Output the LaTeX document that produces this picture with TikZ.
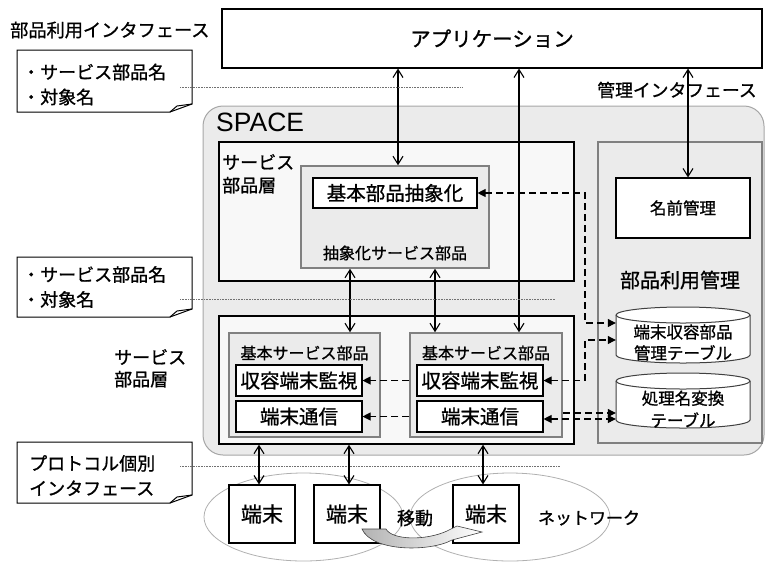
\documentclass[tikz,border=0pt]{standalone}
\usepackage{fontspec}
\setmainfont{Noto Sans CJK JP}[RawFeature={embolden=1}]
\newfontfamily\latinfont{Liberation Sans}
\usetikzlibrary{arrows.meta}
\newcommand{\fsz}[2]{\fontsize{#1}{#2}\selectfont}
\definecolor{spacefill}{HTML}{EBEBEB}
\definecolor{spaceline}{HTML}{A6A6A6}
\definecolor{layerfill}{HTML}{F8F8F8}
\definecolor{compline}{HTML}{808080}
\definecolor{compfill}{HTML}{EBEBEB}
\definecolor{dotcol}{HTML}{707070}
\definecolor{ellcol}{HTML}{B0B0B0}
\definecolor{cylline}{HTML}{404040}
\tikzset{
 wbox/.style={draw=black, fill=white, line width=1.1pt, inner sep=0pt},
 layer/.style={draw=black, fill=layerfill, line width=1.4pt, inner sep=0pt},
 comp/.style={draw=compline, fill=compfill, line width=1.5pt, inner sep=0pt},
 bi/.style={line width=1.1pt, {Straight Barb[length=8pt,width=10pt]}-{Straight Barb[length=8pt,width=10pt]}},
 dbi/.style={line width=1.1pt, dash pattern=on 7pt off 4pt, {Triangle[length=8pt,width=8pt]}-{Triangle[length=8pt,width=8pt]}},
 done/.style={line width=1.1pt, dash pattern=on 7pt off 4pt, -{Triangle[length=8pt,width=8pt]}},
 dotline/.style={draw=dotcol, line width=0.7pt, dash pattern=on 0.8pt off 0.8pt},
 notebox/.style={draw=black, fill=white, line width=1pt},
 cylbody/.style={draw=cylline, fill=white, line width=1pt},
 ell/.style={draw=ellcol, line width=0.8pt},
 plain/.style={inner sep=0pt}
}
\begin{document}
\begin{tikzpicture}[x=1pt,y=-1pt]
\useasboundingbox (0,0) rectangle (767,563);
% SPACE container
\node[draw=spaceline, fill=spacefill, line width=1pt, rounded corners=20pt, minimum width=561pt, minimum height=349pt, inner sep=0pt] (space) at (483.5,280.5) {};
\node[anchor=west, font=\latinfont\fsz{26.5}{30}, plain] (spacelbl) at (216,122) {SPACE};
% upper service layer
\node[layer, minimum width=355pt, minimum height=139pt] (ul) at (396.5,211.5) {};
\node[anchor=north west, align=left, font=\fsz{18}{23}, plain] (ullbl) at (222,154) {サービス\\部品層};
\node[comp, minimum width=188pt, minimum height=102pt] (abs) at (395,217) {};
\node[font=\fsz{16}{19}, plain] (abslbl) at (395,253) {抽象化サービス部品};
\node[wbox, minimum width=164pt, minimum height=30pt, font=\fsz{19.5}{22}] (kabs) at (395,193) {基本部品抽象化};
% management panel
\node[comp, minimum width=164pt, minimum height=301pt] (mg) at (680,292.5) {};
\node[wbox, minimum width=134pt, minimum height=60pt, font=\fsz{16.5}{20}] (namae) at (683,208) {名前管理};
\node[font=\fsz{20}{24}, plain] (mglbl) at (680,280) {部品利用管理};
% cylinders
\draw[cylbody] (616,315) -- (616,355) .. controls (616,359.4) and (646,363) .. (683,363) .. controls (720,363) and (750,359.4) .. (750,355) -- (750,315) .. controls (750,310.6) and (720,307) .. (683,307) .. controls (646,307) and (616,310.6) .. (616,315) -- cycle;
\draw[cylbody, fill=none] (616,315) .. controls (616,319.4) and (646,323) .. (683,323) .. controls (720,323) and (750,319.4) .. (750,315);
\node[minimum width=134pt, minimum height=56pt, plain] (cyl1) at (683,335) {};
\node[align=center, font=\fsz{16.5}{21}, plain] (cyl1t) at (683,342.5) {端末収容部品\\管理テーブル};
\draw[cylbody] (616,381) -- (616,420) .. controls (616,424.4) and (646,428) .. (683,428) .. controls (720,428) and (750,424.4) .. (750,420) -- (750,381) .. controls (750,376.6) and (720,373) .. (683,373) .. controls (646,373) and (616,376.6) .. (616,381) -- cycle;
\draw[cylbody, fill=none] (616,381) .. controls (616,385.4) and (646,389) .. (683,389) .. controls (720,389) and (750,385.4) .. (750,381);
\node[minimum width=134pt, minimum height=55pt, plain] (cyl2) at (683,400.5) {};
\node[align=center, font=\fsz{16.5}{22}, plain] (cyl2t) at (683,409) {処理名変換\\テーブル};
% lower service layer
\node[layer, minimum width=355pt, minimum height=128pt] (ll) at (396.5,380) {};
\node[comp, minimum width=151pt, minimum height=104pt] (comp1) at (304.5,385) {};
\node[comp, minimum width=152pt, minimum height=104pt] (comp2) at (486,385) {};
\node[font=\fsz{16}{19}, plain] (c1lbl) at (304.5,353) {基本サービス部品};
\node[font=\fsz{16}{19}, plain] (c2lbl) at (486,353) {基本サービス部品};
\node[wbox, minimum width=126pt, minimum height=31pt, font=\fsz{19.5}{22}] (kan1) at (299,380.5) {収容端末監視};
\node[wbox, minimum width=126pt, minimum height=31pt, font=\fsz{19.5}{22}] (tsu1) at (299,416.5) {端末通信};
\node[wbox, minimum width=126pt, minimum height=31pt, font=\fsz{19.5}{22}] (kan2) at (480,380.5) {収容端末監視};
\node[wbox, minimum width=126pt, minimum height=31pt, font=\fsz{19.5}{22}] (tsu2) at (480,416.5) {端末通信};
% application
\node[wbox, minimum width=540pt, minimum height=59pt, font=\fsz{20.5}{24}] (app) at (492,38.5) {アプリケーション};
\node[anchor=west, font=\fsz{18.2}{22}, plain] (ifc1) at (10,30) {部品利用インタフェース};
\node[font=\fsz{17.8}{22}, plain] (ifc2) at (677,90) {管理インタフェース};
% solid double arrows
\draw[bi] (app.south -| 398,0) -- (abs.north -| 398,0);
\draw[bi] (app.south -| 519,0) -- (comp2.north -| 519,0);
\draw[bi] (app.south -| 688,0) -- (namae.north -| 688,0);
\draw[bi] (abs.south -| 350,0) -- (comp1.north -| 350,0);
\draw[bi] (abs.south -| 435,0) -- (comp2.north -| 435,0);
% dashed arrows
\draw[dbi] (kabs.east) -- (kabs.east -| 585,0) -- (585,323) -- (cyl1.west |- 0,323);
\draw[dbi] (kan2.east) -- (kan2.east -| 585,0) -- (585,340) -- (cyl1.west |- 0,340);
\draw[done] (comp2.east |- 0,413) -- (cyl2.west |- 0,413);
\draw[dbi] (tsu2.east |- 0,419) -- (cyl2.west |- 0,419);
\draw[done] (comp2.west |- kan1.east) -- (kan1.east);
\draw[done] (comp2.west |- tsu1.east) -- (tsu1.east);
% notes
\draw[notebox] (17,50) -- (192,50) -- (192,104) -- (170,112) -- (17,112) -- cycle;
\draw[notebox, fill=none] (192,104) -- (177,106) -- (170,112);
\node[anchor=west, align=left, font=\fsz{18}{25}, plain] (n1) at (22,84.5) {・サービス部品名\\・対象名};
\draw[notebox] (17,257) -- (192,257) -- (192,309) -- (170,317) -- (17,317) -- cycle;
\draw[notebox, fill=none] (192,309) -- (177,311) -- (170,317);
\node[anchor=west, align=left, font=\fsz{18}{25}, plain] (n2) at (22,287) {・サービス部品名\\・対象名};
\draw[notebox] (17,442) -- (192,442) -- (192,495) -- (170,503) -- (17,503) -- cycle;
\draw[notebox, fill=none] (192,495) -- (177,497) -- (170,503);
\node[anchor=west, align=left, font=\fsz{18}{25}, plain] (n3) at (29,475.5) {プロトコル個別\\インタフェース};
% dotted guide lines
\coordinate (d1a) at (180,87); \coordinate (d1b) at (463,87);
\coordinate (d2a) at (180,299); \coordinate (d2b) at (555,299);
\coordinate (d3a) at (180,466); \coordinate (d3b) at (560,466);
\draw[dotline] (d1a) -- (d1b);
\draw[dotline] (d2a) -- (d2b);
\draw[dotline] (d3a) -- (d3b);
% lower left label
\node[anchor=north west, align=left, font=\fsz{18}{22}, plain] (lllbl) at (114,349) {サービス\\部品層};
% networks
\draw[ell] (303.5,517) ellipse[x radius=99.5, y radius=44];
\draw[ell] (510,517) ellipse[x radius=100, y radius=44];
\node[wbox, minimum width=66pt, minimum height=58pt, font=\fsz{21}{24}] (t1) at (262,514) {端末};
\node[wbox, minimum width=66pt, minimum height=58pt, font=\fsz{21}{24}] (t2) at (347,514) {端末};
\node[wbox, minimum width=66pt, minimum height=58pt, font=\fsz{21}{24}] (t3) at (486,514) {端末};
\draw[bi] (ll.south -| 259,0) -- (t1.north -| 259,0);
\draw[bi] (ll.south -| 349,0) -- (t2.north -| 349,0);
\draw[bi] (ll.south -| 483,0) -- (t3.north -| 483,0);
\node[font=\fsz{18}{22}, plain] (move) at (415,518) {移動};
\node[font=\fsz{17}{22}, plain] (net) at (589,518) {ネットワーク};
% moving arrow
\shadedraw[left color=black!30, right color=white, draw=black!75, line width=0.6pt]
 (362,529) .. controls (372,552) and (430,552) .. (452,540) -- (482,532) -- (457,526) -- (447,531)
 .. controls (425,541) and (392,540) .. (386,529) -- cycle;
\end{tikzpicture}
\end{document}
